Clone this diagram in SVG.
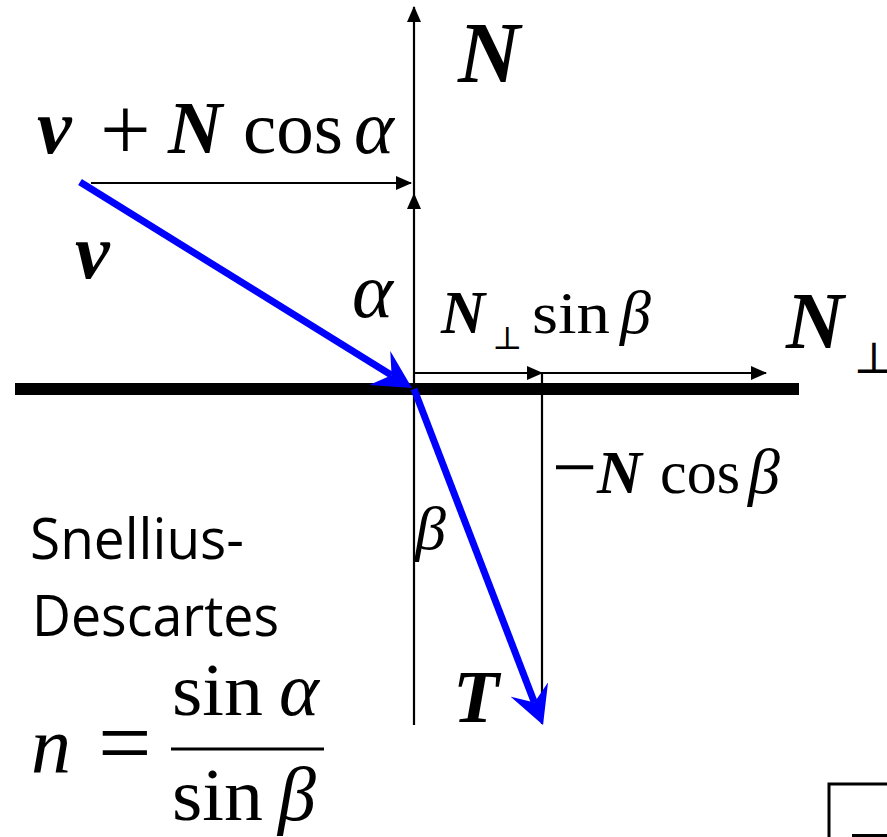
<svg xmlns="http://www.w3.org/2000/svg" width="887" height="837" viewBox="0 0 887 837">
<style>
.m{font-family:"Liberation Serif","DejaVu Serif",serif;fill:#000}
.bi{font-weight:bold;font-style:italic}
.it{font-style:italic}
.s{font-family:"Open Sans","Liberation Sans",sans-serif;fill:#000}
.thin{stroke:#000;stroke-width:2.2;fill:none}
.blue{stroke:#0000FF;stroke-width:7;fill:none}
</style>
<defs>
<marker id="ah" markerUnits="userSpaceOnUse" viewBox="0 0 16 14" markerWidth="16" markerHeight="14" refX="15" refY="7" orient="auto">
<path d="M0,0 L16,7 L0,14 Z" fill="#000"/>
</marker>
<marker id="bh" markerUnits="userSpaceOnUse" viewBox="0 0 38 40" markerWidth="38" markerHeight="40" refX="14" refY="20" orient="auto">
<path d="M0,0 L38,20 L0,40 L14,20 Z" fill="#0000FF"/>
</marker>
</defs>
<rect width="887" height="837" fill="#fff"/>
<g id="surface">
<line x1="15" y1="389" x2="799" y2="389" stroke="#000" stroke-width="12"/>
</g>
<g id="connectors">
<line class="thin" x1="414" y1="388" x2="414" y2="194" marker-end="url(#ah)"/>
<line class="thin" x1="414" y1="194" x2="414" y2="7" marker-end="url(#ah)"/>
<line class="thin" x1="91" y1="183" x2="411" y2="183" marker-end="url(#ah)"/>
<line class="thin" x1="414" y1="373" x2="542" y2="373" marker-end="url(#ah)"/>
<line class="thin" x1="542" y1="373" x2="766" y2="373" marker-end="url(#ah)"/>
<line class="thin" x1="414" y1="389" x2="414" y2="725"/>
<line class="thin" x1="542" y1="373" x2="542" y2="724"/>
<line class="blue" x1="80" y1="182" x2="391.6" y2="375.3" marker-end="url(#bh)"/>
<line class="blue" x1="414" y1="389" x2="534.4" y2="702.6" marker-end="url(#bh)"/>
</g>
<g id="label-vNcos">
<text class="m bi" x="37" y="153" font-size="78">v</text>
<text class="m" x="100" y="160" font-size="90">+</text>
<text class="m bi" x="168" y="153" font-size="75">N</text>
<text class="m" x="243" y="153" font-size="74" textLength="100" lengthAdjust="spacingAndGlyphs">cos</text>
<text class="m it" x="354" y="153" font-size="76">α</text>
</g>
<g id="label-N">
<text class="m bi" x="458" y="82" font-size="86">N</text>
</g>
<g id="label-v">
<text class="m bi" x="75" y="278" font-size="78">v</text>
</g>
<g id="label-alpha">
<text class="m it" x="352" y="317" font-size="78">α</text>
</g>
<g id="label-Nperp-sin">
<text class="m bi" x="441" y="333" font-size="61">N</text>
<text class="m" x="492" y="349" font-size="32">⊥</text>
<text class="m" x="532" y="333" font-size="60" textLength="78" lengthAdjust="spacingAndGlyphs">sin</text>
<text class="m it" x="620" y="333" font-size="62">β</text>
</g>
<g id="label-Nperp">
<text class="m bi" x="786" y="348" font-size="80">N</text>
<text class="m" x="853" y="373" font-size="44">⊥</text>
</g>
<g id="label-Ncosb">
<text class="m" x="552" y="494" font-size="80">−</text>
<text class="m bi" x="597" y="493" font-size="62">N</text>
<text class="m" x="660" y="493" font-size="62" textLength="80" lengthAdjust="spacingAndGlyphs">cos</text>
<text class="m it" x="748" y="493" font-size="64">β</text>
</g>
<g id="label-beta">
<text class="m it" x="415" y="549" font-size="62">β</text>
</g>
<g id="label-T">
<text class="m bi" x="453" y="722" font-size="75">T</text>
</g>
<g id="label-snell">
<text class="s" x="30" y="559" font-size="56" textLength="214" lengthAdjust="spacingAndGlyphs">Snellius-</text>
<text class="s" x="32" y="636" font-size="56" textLength="247" lengthAdjust="spacingAndGlyphs">Descartes</text>
</g>
<g id="formula">
<text class="m it" x="31" y="772" font-size="80">n</text>
<text class="m" x="98" y="775" font-size="95">=</text>
<line x1="171" y1="749" x2="324" y2="749" stroke="#000" stroke-width="3"/>
<text class="m" x="172" y="715" font-size="74" textLength="91" lengthAdjust="spacingAndGlyphs">sin</text>
<text class="m it" x="279" y="715" font-size="76">α</text>
<text class="m" x="172" y="820" font-size="74" textLength="91" lengthAdjust="spacingAndGlyphs">sin</text>
<text class="m it" x="278" y="820" font-size="76">β</text>
</g>
<g id="corner-box">
<rect x="829" y="784" width="80" height="80" fill="#fff" stroke="#000" stroke-width="3"/>
<rect x="852" y="834" width="40" height="6" fill="#000"/>
</g>
</svg>
